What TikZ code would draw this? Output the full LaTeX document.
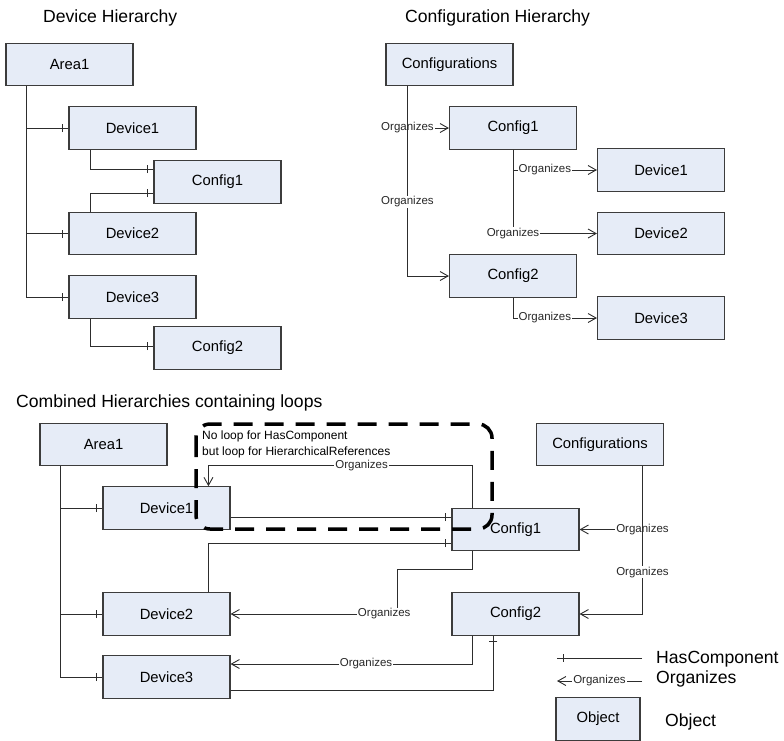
\documentclass[tikz,border=0pt]{standalone}
\usepackage{fontspec}
\setmainfont{Liberation Sans}
\usetikzlibrary{arrows.meta,decorations.markings}
\definecolor{boxfill}{RGB}{230,236,247}
\definecolor{boxline}{RGB}{60,60,60}
\definecolor{linec}{RGB}{45,45,45}
\definecolor{lblc}{RGB}{40,40,40}
\begin{document}
\begin{tikzpicture}[x=1pt,y=-1pt,
 obj/.style={draw=boxline, fill=boxfill, line width=1.1pt, minimum width=127pt, minimum height=42.5pt, inner sep=0pt, font=\fontsize{14.8}{17}\selectfont},
 title/.style={anchor=base west, inner sep=0pt, font=\fontsize{17.6}{20}\selectfont},
 lbl/.style={fill=white, inner sep=1pt, text=lblc, font=\fontsize{11.5}{13}\selectfont},
 org/.style={draw=linec, line width=0.9pt, -{Straight Barb[length=8pt,width=9pt,line width=0.9pt]}},
 hc/.style={draw=linec, line width=0.9pt, postaction={decorate}, decoration={markings, mark=at position -6pt with {\draw[linec,line width=0.9pt] (0pt,-4pt) -- (0pt,4pt);}}},
 loopbox/.style={draw=black, line width=3.5pt, dash pattern=on 19pt off 12pt, rounded corners=14pt},
]
\useasboundingbox (0,0) rectangle (784,740);

% titles
\node[title] (t1) at (43,22.7) {Device Hierarchy};
\node[title] (t2) at (405,22.5) {Configuration Hierarchy};
\node[title] (t3) at (16,407) {Combined Hierarchies containing loops};

% top-left
\node[obj] (A1) at (69.5,64.5) {Area1};
\node[obj] (D1) at (132.5,128) {Device1};
\node[obj] (C1) at (217.5,182) {Config1};
\node[obj] (D2) at (132.5,233.5) {Device2};
\node[obj] (D3) at (132.5,297) {Device3};
\node[obj] (C2) at (217.5,348) {Config2};

\draw[hc] ([xshift=21pt]A1.south west) |- (D1.west);
\draw[hc] ([xshift=21pt]A1.south west) |- (D2.west);
\draw[hc] ([xshift=21pt]A1.south west) |- (D3.west);
\draw[hc] ([xshift=22pt]D1.south west) |- ([yshift=13pt]C1.west);
\draw[hc] ([xshift=22pt]D2.north west) |- ([yshift=-11pt]C1.west);
\draw[hc] ([xshift=22pt]D3.south west) |- ([yshift=2pt]C2.west);

% top-right
\node[obj] (Cf) at (449.5,64.5) {Configurations};
\node[obj] (C1t) at (513,128) {Config1};
\node[obj] (D1t) at (661,170) {Device1};
\node[obj] (D2t) at (661,233.5) {Device2};
\node[obj] (C2t) at (513,276) {Config2};
\node[obj] (D3t) at (661,318) {Device3};

\draw[org] ([xshift=22pt]Cf.south west) |- (C1t.west) node[lbl,pos=0.5]{Organizes};
\draw[org] ([xshift=22pt]Cf.south west) |- (C2t.west) node[lbl,pos=0.305]{Organizes};
\draw[org] (C1t.south) |- (D1t.west) node[lbl,pos=0.69]{Organizes};
\draw[org] (C1t.south) |- (D2t.west) node[lbl,pos=0.5]{Organizes};
\draw[org] (C2t.south) |- (D3t.west) node[lbl,pos=0.69]{Organizes};

% bottom
\node[obj] (A1b) at (103.5,444.5) {Area1};
\node[obj] (D1b) at (166.5,508) {Device1};
\node[obj] (D2b) at (166.5,614) {Device2};
\node[obj] (D3b) at (166.5,677) {Device3};
\node[obj] (Cfb) at (600,444.5) {Configurations};
\node[obj] (C1b) at (515.5,529.5) {Config1};
\node[obj] (C2b) at (515.5,614) {Config2};
\node[obj, minimum width=84pt] (Ob) at (598,719) {Object};

\draw[hc] ([xshift=21pt]A1b.south west) |- (D1b.west);
\draw[hc] ([xshift=21pt]A1b.south west) |- (D2b.west);
\draw[hc] ([xshift=21pt]A1b.south west) |- (D3b.west);

\draw[org] ([xshift=21pt]C1b.north west) -- ++(0,-42) -| ([xshift=106pt]D1b.north west) node[lbl,pos=0.21]{Organizes};
\draw[hc] ([yshift=-9pt]D1b.east) -- ([yshift=-9pt]D1b.east -| C1b.west);
\draw[hc] ([xshift=106pt]D2b.north west) |- ([yshift=-13.5pt]C1b.west);
\draw[org] ([xshift=21pt]C1b.south west) -- ++(0,18) -| ([xshift=167pt]D2b.east) -- (D2b.east) node[lbl,pos=0.08]{Organizes};
\draw[org] ([xshift=21pt]C2b.south west) |- ([yshift=13pt]D3b.east) node[lbl,pos=0.72]{Organizes};
\draw[hc] ([yshift=-13pt]D3b.east) -| ([xshift=42pt]C2b.south west);
\draw[org] ([xshift=106.5pt]Cfb.south west) |- (C1b.east) node[lbl,pos=0.5]{Organizes};
\draw[org] ([xshift=106.5pt]Cfb.south west) |- (C2b.east) node[lbl,pos=0.358]{Organizes};

% note and loop marker
\node[anchor=west, align=left, inner sep=0pt, font=\fontsize{12}{16}\selectfont] (note) at (202,444) {No loop for HasComponent\\but loop for HierarchicalReferences};
\draw[loopbox] (196,424) rectangle (492,529);

% legend
\coordinate (hA) at (642,658);
\coordinate (hB) at (557,658);
\draw[hc] (hA) -- (hB);
\coordinate (oA) at (642,681);
\coordinate (oB) at (557,681);
\draw[org] (oA) -- (oB) node[lbl,pos=0.5]{Organizes};
\node[title] (lg1) at (656,663) {HasComponent};
\node[title] (lg2) at (656,683) {Organizes};
\node[title] (lg3) at (665,726) {Object};
\end{tikzpicture}
\end{document}
